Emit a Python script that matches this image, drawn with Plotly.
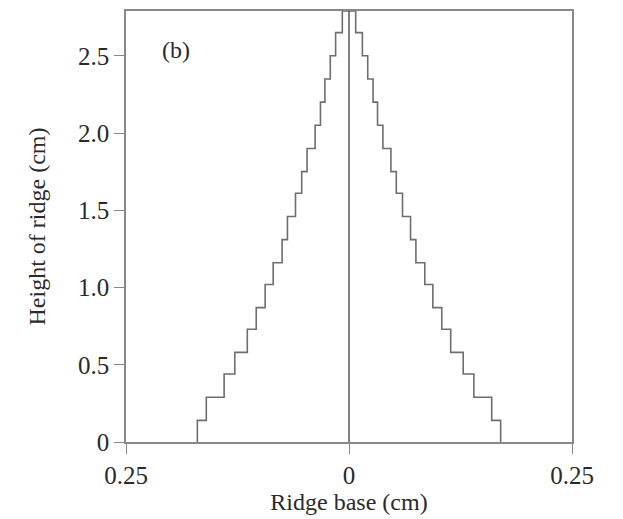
import plotly.graph_objects as go

# Ridge profile: half-widths (cm) of each step and step heights (cm)
half_widths = [0.170, 0.160, 0.140, 0.128, 0.114, 0.104, 0.094, 0.085, 0.075, 0.069,
               0.060, 0.053, 0.047, 0.038, 0.032, 0.027, 0.021, 0.015, 0.0075]
step_heights = [0.0, 0.14, 0.29, 0.44, 0.58, 0.73, 0.87, 1.02, 1.16, 1.31,
                1.46, 1.61, 1.75, 1.90, 2.05, 2.20, 2.35, 2.50, 2.65, 2.79]

x_tickvals = [-0.25, 0, 0.25]
x_ticktext = ["0.25", "0", "0.25"]
y_tickvals = [0, 0.5, 1.0, 1.5, 2.0, 2.5]
y_ticktext = ["0", "0.5", "1.0", "1.5", "2.0", "2.5"]
y_top = step_heights[-1]

# Build the closed staircase outline (left side up, right side down) with 'vh' steps
n = len(half_widths)
xs = [-w for w in half_widths] + [w for w in reversed(half_widths)] + [half_widths[0]]
ys = step_heights[:n] + [step_heights[n]] + list(reversed(step_heights[1:n])) + [0.0]

FONT = "Liberation Serif, Times New Roman, serif"
TXT = "#2a2a2a"

fig = go.Figure()
fig.add_trace(go.Scatter(x=xs, y=ys, mode="lines", line=dict(color="#6e6e6e", width=1.6, shape="vh"),
                         showlegend=False, hoverinfo="skip"))
fig.add_vline(x=0, line=dict(color="#555555", width=1.5))

fig.add_annotation(x=-0.194, y=2.54, text="(b)", showarrow=False, xref="x", yref="y",
                   font=dict(family=FONT, size=24, color=TXT))

fig.update_layout(
    width=623, height=519,
    margin=dict(l=118, r=59, t=1, b=85),
    plot_bgcolor="white", paper_bgcolor="white",
    font=dict(family=FONT, size=22, color=TXT),
    showlegend=False,
)
fig.update_xaxes(range=[-0.25, 0.25], tickvals=x_tickvals, ticktext=x_ticktext,
                 showgrid=False, zeroline=False, showline=True, linecolor="#888888", linewidth=1.5,
                 mirror=True, ticks="outside", ticklen=10, tickcolor="#888888", tickwidth=1.3,
                 title=dict(text="Ridge base (cm)", font=dict(family=FONT, size=24, color=TXT), standoff=4),
                 tickfont=dict(family=FONT, size=25, color=TXT))
fig.update_yaxes(range=[0, y_top], tickvals=y_tickvals, ticktext=y_ticktext,
                 showgrid=False, zeroline=False, showline=True, linecolor="#888888", linewidth=1.5,
                 mirror=True, ticks="outside", ticklen=10, tickcolor="#888888", tickwidth=1.3,
                 title=dict(text="Height of ridge (cm)", font=dict(family=FONT, size=24, color=TXT), standoff=26),
                 tickfont=dict(family=FONT, size=25, color=TXT))

fig.write_html("out.html")
